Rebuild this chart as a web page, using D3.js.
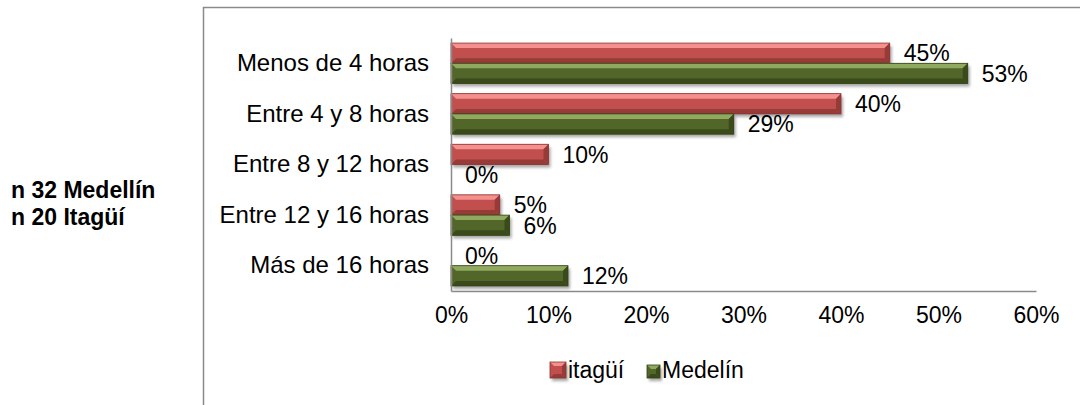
<!DOCTYPE html>
<html>
<head>
<meta charset="utf-8">
<script src="https://cdn.jsdelivr.net/npm/d3@7"></script>
<style>
  body { margin: 0; background: #fff; }
  svg { font-family: "Liberation Sans", Arial, sans-serif; }
</style>
</head>
<body>
<svg width="1080" height="405"></svg>
<script>
var width = 1080;
var height = 405;

var categories = ["Menos de 4 horas", "Entre 4 y 8 horas", "Entre 8 y 12 horas", "Entre 12 y 16 horas", "Más de 16 horas"];
var seriesNames = ["itagüí", "Medelín"];
var itagui = [45, 40, 10, 5, 0];
var medellin = [53, 29, 0, 6, 12];
var xTicks = [0, 10, 20, 30, 40, 50, 60];
var noteLines = ["n 32 Medellín", "n 20 Itagüí"];

var seriesValues = [itagui, medellin];
var palette = [
  { base: "#C0504D", light: "#F4908D", dark: "#963B38", edge: "#8C3230" },
  { base: "#536629", light: "#8FAA5E", dark: "#3A4A1A", edge: "#334216" }
];

var plot = { left: 451, right: 1036, top: 38, bottom: 291 };

var xScale = d3.scaleLinear().domain([0, 60]).range([plot.left, plot.right]);
var yScale = d3.scaleBand().domain(categories).range([plot.top, plot.bottom])
  .paddingInner(0.2).paddingOuter(0.1);
var sScale = d3.scaleBand().domain([0, 1]).range([0, yScale.bandwidth()]);

var svg = d3.select("svg");
var defs = svg.append("defs");

var shadow = defs.append("filter").attr("id", "shadow")
  .attr("x", "-10%").attr("y", "-30%").attr("width", "130%").attr("height", "180%");
shadow.append("feDropShadow")
  .attr("dx", 2).attr("dy", 3).attr("stdDeviation", 1.6)
  .attr("flood-color", "#000").attr("flood-opacity", 0.35);

// outer frame
svg.append("rect")
  .attr("x", 203.5).attr("y", 7.5)
  .attr("width", 1000).attr("height", 500)
  .attr("fill", "none").attr("stroke", "#8a8a8a").attr("stroke-width", 1.5);

// side note
svg.append("g").selectAll("text")
  .data(noteLines)
  .enter().append("text")
    .attr("x", 11)
    .attr("y", (d, i) => 198 + i * 27)
    .style("font-size", "23px")
    .style("font-weight", "bold")
    .text(d => d);

// beveled box
function bevel(g, x, y, w, h, c, b) {
  if (w <= 0) return;
  b = Math.min(b, w / 2, h / 2);
  g.append("rect").attr("x", x).attr("y", y).attr("width", w).attr("height", h)
    .attr("fill", c.base).attr("filter", "url(#shadow)");
  g.append("polygon")
    .attr("points", [[x, y], [x + w, y], [x + w - b, y + b], [x + b, y + b]].join(" "))
    .attr("fill", c.light);
  g.append("polygon")
    .attr("points", [[x, y + h], [x + w, y + h], [x + w - b, y + h - b], [x + b, y + h - b]].join(" "))
    .attr("fill", c.dark);
  g.append("polygon")
    .attr("points", [[x + w, y], [x + w, y + h], [x + w - b, y + h - b], [x + w - b, y + b]].join(" "))
    .attr("fill", c.dark);
  g.append("rect").attr("x", x).attr("y", y).attr("width", w).attr("height", h)
    .attr("fill", "none").attr("stroke", c.edge).attr("stroke-width", 0.8);
}

// bars
var barG = svg.append("g");
seriesValues.forEach(function (vals, s) {
  vals.forEach(function (v, i) {
    var y = yScale(categories[i]) + sScale(s);
    bevel(barG, xScale(0), y, xScale(v) - xScale(0), sScale.bandwidth(), palette[s], 5);
  });
});

// axes
var xAxis = d3.axisBottom(xScale).tickValues(xTicks).tickSize(0).tickPadding(16)
  .tickFormat(d => d + "%");
svg.append("g")
  .attr("transform", `translate(0, ${plot.bottom})`)
  .call(xAxis)
  .call(g => g.select(".domain").attr("stroke", "#8a8a8a").attr("stroke-width", 1.5))
  .call(g => g.selectAll("text").style("font-size", "23px").attr("fill", "#000")
    .style("font-family", "'Liberation Sans', Arial, sans-serif"));

var yAxis = d3.axisLeft(yScale).tickSize(0).tickPadding(22);
svg.append("g")
  .attr("transform", `translate(${plot.left}, 0)`)
  .call(yAxis)
  .call(g => g.select(".domain").attr("stroke", "#8a8a8a").attr("stroke-width", 1.5))
  .call(g => g.selectAll("text").style("font-size", "24px").attr("fill", "#000")
    .style("font-family", "'Liberation Sans', Arial, sans-serif"));

// data labels
var labelG = svg.append("g").style("font-size", "23px");
seriesValues.forEach(function (vals, s) {
  labelG.selectAll(null)
    .data(vals)
    .enter().append("text")
      .attr("x", d => xScale(d) + 14)
      .attr("y", (d, i) => yScale(categories[i]) + sScale(s) + sScale.bandwidth() / 2)
      .attr("dy", "0.36em")
      .text(d => d + "%");
});

// legend
var legend = svg.append("g").style("font-size", "23px");
var legendX = [550, 647];
seriesNames.forEach(function (name, s) {
  var size = s === 0 ? 16 : 13;
  var g = legend.append("g");
  bevel(g, legendX[s], 378 - size, size, size, palette[s], 4);
  g.append("text")
    .attr("x", legendX[s] + size + 2)
    .attr("y", 378)
    .text(name);
});
</script>
</body>
</html>
